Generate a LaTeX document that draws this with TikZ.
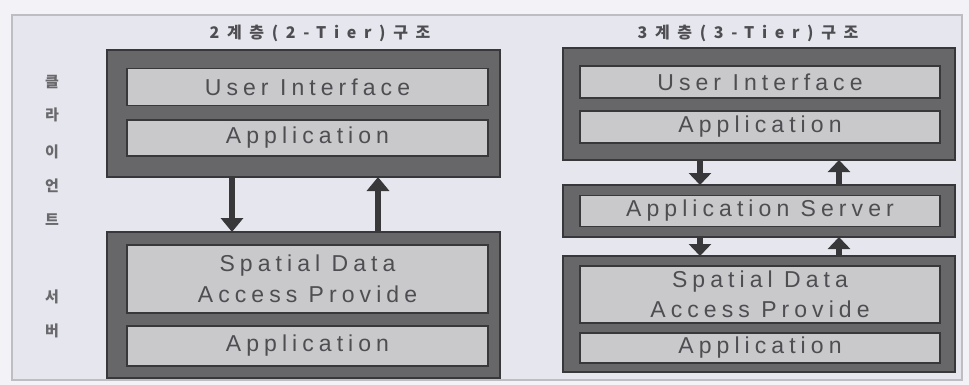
\documentclass[tikz,border=0pt]{standalone}
\usepackage{fontspec}
\setmainfont{Liberation Sans}
\newfontfamily\lblfont[LetterSpace=22]{Liberation Sans}
\newfontfamily\krfont[LetterSpace=48]{Noto Sans CJK KR}
\newfontfamily\krside{Noto Sans CJK KR}
\usetikzlibrary{arrows.meta}
\definecolor{pagebg}{HTML}{F3F2F7}
\definecolor{framebg}{HTML}{E6E6EE}
\definecolor{tierfill}{HTML}{676769}
\definecolor{tierline}{HTML}{38383A}
\definecolor{layerfill}{HTML}{C9C9CC}
\definecolor{inktext}{HTML}{4E4E52}
\tikzset{
  tier/.style={draw=tierline, line width=2pt, fill=tierfill},
  layer/.style={draw=tierline, line width=1.6pt, fill=layerfill},
  lbl/.style={font=\lblfont\fontsize{23}{31}\selectfont, text=inktext, align=center},
  title/.style={font=\krfont\bfseries\fontsize{16}{19}\selectfont, text=inktext},
  side/.style={font=\krside\bfseries\fontsize{15}{17}\selectfont, text=inktext!85},
  flow/.style={line width=6pt, draw=tierline, -{Triangle[width=22pt,length=14pt]}},
  flowsm/.style={line width=6pt, draw=tierline, -{Triangle[width=22pt,length=12pt]}},
}
\begin{document}
\begin{tikzpicture}[x=1pt,y=-1pt]
% page and outer frame
\fill[pagebg] (0,0) rectangle (969,385);
\draw[framebg!60!gray, fill=framebg, line width=1.8pt] (12,15) rectangle (962,380);
\useasboundingbox (0,0) rectangle (969,385);

% side labels
\foreach \ch/\yy in {클/82,라/115,이/152,언/186,트/220,서/297,버/331}
  \node[side] at (52,\yy) {\ch};

% ---------- two-tier ----------
\node[title] (t2) at (320,33) {2계층(2-Tier)구조};
\path[tier] (107,50) rectangle (500,177);
\coordinate (c2top) at (303.5,177);
\node[layer, minimum width=361pt, minimum height=37pt, lbl] (ui2) at (307.5,87) {User Interface};
\node[layer, minimum width=361pt, minimum height=36pt, lbl] (ap2) at (307.5,138) {Application};

\path[tier] (107,232) rectangle (500,378);
\coordinate (s2top) at (303.5,232);
\node[layer, minimum width=361pt, minimum height=68pt, lbl] (sd2) at (307.5,279) {Spatial Data\\Access Provide};
\node[layer, minimum width=361pt, minimum height=40pt, lbl] (sa2) at (307.5,346) {Application};

\coordinate (d2x) at (232,0);
\coordinate (u2x) at (378,0);
\draw[flow] (c2top -| d2x) -- (s2top -| d2x);
\draw[flow] (s2top -| u2x) -- (c2top -| u2x);

% ---------- three-tier ----------
\node[title] (t3) at (748,33) {3계층(3-Tier)구조};
\path[tier] (563,48) rectangle (955,160);
\coordinate (c3bot) at (759,160);
\node[layer, minimum width=360pt, minimum height=32pt, lbl] (ui3) at (760,82) {User Interface};
\node[layer, minimum width=360pt, minimum height=32pt, lbl] (ap3) at (760,127) {Application};

\path[tier] (563,185) rectangle (955,237);
\coordinate (m3top) at (759,185);
\coordinate (m3bot) at (759,237);
\node[layer, minimum width=360pt, minimum height=31pt, lbl] (as3) at (760,211) {Application Server};

\path[tier] (563,256) rectangle (955,372);
\coordinate (b3top) at (759,256);
\node[layer, minimum width=360pt, minimum height=57pt, lbl] (sd3) at (760,294.5) {Spatial Data\\[-1pt]Access Provide};
\node[layer, minimum width=360pt, minimum height=30pt, lbl] (sa3) at (760,348) {Application};

\coordinate (d3x) at (700,0);
\coordinate (u3x) at (839,0);
\draw[flowsm] (c3bot -| d3x) -- (m3top -| d3x);
\draw[flowsm] (m3top -| u3x) -- (c3bot -| u3x);
\draw[flowsm] (m3bot -| d3x) -- (b3top -| d3x);
\draw[flowsm] (b3top -| u3x) -- (m3bot -| u3x);
\end{tikzpicture}
\end{document}
